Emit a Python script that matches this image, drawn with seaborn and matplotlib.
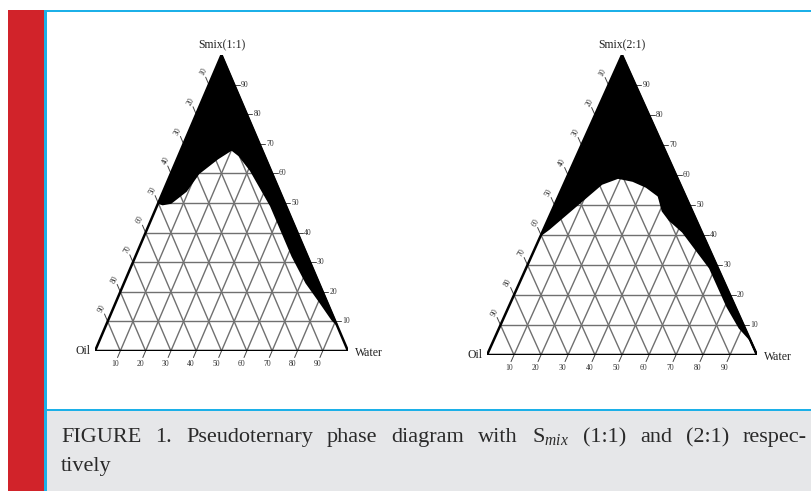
import numpy as np
import seaborn as sns
import matplotlib.pyplot as plt
from matplotlib.patches import Rectangle

# ── style ──────────────────────────────────────────────────────────────
sns.set_theme(style="white")
plt.rcParams["font.family"] = ["Liberation Serif", "DejaVu Serif"]
plt.rcParams["mathtext.fontset"] = "custom"
plt.rcParams["mathtext.rm"] = "Liberation Serif"
plt.rcParams["mathtext.it"] = "Liberation Serif:italic"

# ── data (percent) ─────────────────────────────────────────────────────
tick_values = [10, 20, 30, 40, 50, 60, 70, 80, 90]

# Smix (1:1): boundary of the black region, going from the Oil-Smix edge
# over the dome and down the band on the Smix-Water edge, back to the apex
smix_11 = [50, 49.5, 50, 54, 60, 65, 68, 66, 61, 55, 49, 40, 32, 23, 17, 10.5, 9, 100]
water_11 = [0, 2, 5, 9, 11, 16, 20, 24, 31, 38, 45, 54, 62, 72, 80, 88.5, 91, 0]

# Smix (2:1)
smix_21 = [40, 42, 47, 52, 57, 59, 58, 56, 53, 48, 45, 41, 35, 29, 24, 16, 9, 5, 0, 100]
water_21 = [0, 2, 6, 10, 14, 19, 25, 31, 37, 41, 45, 52, 60, 68, 73, 81, 89, 95, 100, 0]

titles = ["Smix(1:1)", "Smix(2:1)"]
caption_1 = ["FIGURE", "1.", "Pseudoternary", "phase", "diagram", "with",
             "S$_{mix}$", "(1:1)", "and", "(2:1)", "respec-"]
caption_2 = "tively"


def cart(smix, water):
    s = np.asarray(smix, float) / 100
    w = np.asarray(water, float) / 100
    return w + s / 2, s


def ternary(ax, smix, water, title):
    ax.set_xlim(0, 1)
    ax.set_ylim(0, 1)
    ax.axis("off")
    # grid
    gc = "#707070"
    for v in tick_values:
        f = v / 100
        ax.plot([f / 2, 1 - f / 2], [f, f], color=gc, lw=1.0, zorder=1)
        ax.plot([f, f + (1 - f) / 2], [0, 1 - f], color=gc, lw=1.0, zorder=1)
        ax.plot([1 - f, (1 - f) / 2], [0, 1 - f], color=gc, lw=1.0, zorder=1)
    # black region
    x, y = cart(smix, water)
    ax.fill(x, y, color="black", lw=0, zorder=2)
    sns.lineplot(x=x, y=y, sort=False, estimator=None, color="black", lw=1.2, ax=ax, zorder=2)
    # outline
    sns.lineplot(x=[0, 1, 0.5, 0], y=[0, 0, 1, 0], sort=False, estimator=None,
                 color="black", lw=1.8, ax=ax, zorder=3)
    # ticks + labels
    kw = dict(fontsize=5.5, color="#333333", clip_on=False)
    for v in tick_values:
        f = v / 100
        # left edge (oil)
        s0 = 1 - f
        x0, y0 = s0 / 2, s0
        ax.plot([x0, x0 - 0.5 * 0.025], [y0, y0 + 0.025], color="#444", lw=0.7, clip_on=False)
        ax.text(x0 - 0.5 * 0.042, y0 + 0.042, str(v), ha="center", va="center", rotation=60, **kw)
        # right edge (smix)
        x0, y0 = 1 - f / 2, f
        ax.plot([x0, x0 + 0.022], [y0, y0], color="#444", lw=0.7, clip_on=False)
        ax.text(x0 + 0.026, y0, str(v), ha="left", va="center", **kw)
        # bottom (water)
        ax.plot([f, f - 0.5 * 0.022], [0, -0.022], color="#444", lw=0.7, clip_on=False)
        ax.text(f - 0.5 * 0.04, -0.045, str(v), ha="center", va="center", **kw)
    ax.text(0.5, 1.012, title, ha="center", va="bottom", fontsize=8.5, color="#222", clip_on=False)
    ax.text(-0.018, 0, "Oil", ha="right", va="center", fontsize=8.5, color="#222", clip_on=False)
    ax.text(1.026, -0.008, "Water", ha="left", va="center", fontsize=8.5, color="#222", clip_on=False)


W, H = 811, 491
fig = plt.figure(figsize=(W / 100, H / 100), dpi=100)

# page frame
bg = fig.add_axes([0, 0, 1, 1])
bg.set_xlim(0, W)
bg.set_ylim(H, 0)
bg.axis("off")
bg.add_patch(Rectangle((8, 10), 36, H - 10, color="#d1232a", lw=0))
bg.add_patch(Rectangle((47, 411), W - 47, H - 411, color="#e6e7e9", lw=0))
bg.add_patch(Rectangle((44, 10), 3, H - 10, color="#1cb0e8", lw=0))
bg.add_patch(Rectangle((44, 9.5), W - 44, 2.5, color="#1cb0e8", lw=0))
bg.add_patch(Rectangle((44, 408.5), W - 44, 2.5, color="#1cb0e8", lw=0))

# justified caption line
cap_kw = dict(fontsize=16, color="#2a2a2a", va="baseline")
x_start, x_end = 61, 807
words = [bg.text(x_start, 442, w, **cap_kw) for w in caption_1]
renderer = fig.canvas.get_renderer()
widths = [t.get_window_extent(renderer).width for t in words]
gap = (x_end - x_start - sum(widths)) / (len(words) - 1)
xpos = x_start
for t, wd in zip(words, widths):
    t.set_x(xpos)
    xpos += wd + gap
bg.text(x_start, 471, caption_2, **cap_kw)

ax1 = fig.add_axes([95 / W, (H - 351) / H, 253 / W, 296 / H])
ternary(ax1, smix_11, water_11, titles[0])
ax2 = fig.add_axes([487 / W, (H - 355) / H, 270 / W, 300 / H])
ternary(ax2, smix_21, water_21, titles[1])

fig.savefig("out.png", dpi=100)
